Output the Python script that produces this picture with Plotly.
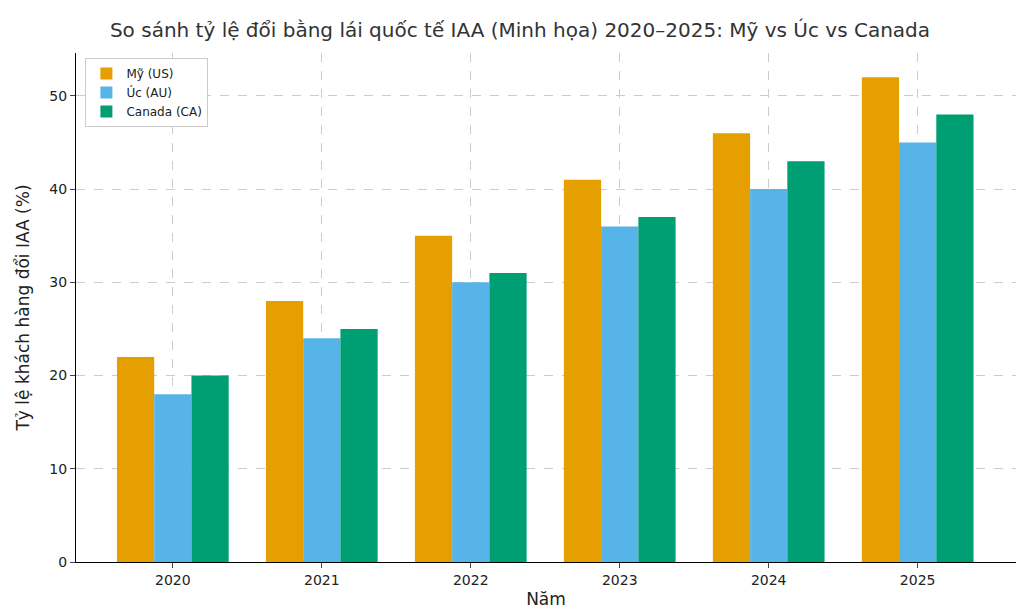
import plotly.graph_objects as go

# ---- Data ---- #
years = ['2020', '2021', '2022', '2023', '2024', '2025']
us = [22, 28, 35, 41, 46, 52]
au = [18, 24, 30, 36, 40, 45]
ca = [20, 25, 31, 37, 43, 48]

series = [('Mỹ (US)', us, '#E69F00'),
          ('Úc (AU)', au, '#56B4E9'),
          ('Canada (CA)', ca, '#009E73')]

fig = go.Figure()
for name, vals, color in series:
    fig.add_trace(go.Bar(x=years, y=vals, name=name, marker_color=color, marker_line_width=0))

fig.update_layout(
    width=1024, height=614,
    font=dict(family='DejaVu Sans', size=14, color='#222'),
    title=dict(text='So sánh tỷ lệ đổi bằng lái quốc tế IAA (Minh họa) 2020–2025: Mỹ vs Úc vs Canada',
               x=0.5, xanchor='center', y=0.975, font=dict(size=20, color='#333')),
    plot_bgcolor='white', paper_bgcolor='white',
    margin=dict(l=68, r=16, t=45, b=60),
    barmode='group', bargap=0.25, bargroupgap=0,
    legend=dict(x=0.01, y=0.99, xanchor='left', yanchor='top', bgcolor='white',
                bordercolor='#ccc', borderwidth=1, font=dict(size=12)),
    xaxis=dict(title=dict(text='Năm', standoff=6), range=[-0.65, 5.66], showline=True, linecolor='black',
               ticks='outside', showgrid=True, gridcolor='#ccc', griddash='dash'),
    yaxis=dict(title=dict(text='Tỷ lệ khách hàng đổi IAA (%)'), range=[0, 54.6], dtick=10,
               showline=True, linecolor='black', ticks='outside', zeroline=False,
               showgrid=True, gridcolor='#ccc', griddash='dash'),
)

fig.write_html('out.html')
